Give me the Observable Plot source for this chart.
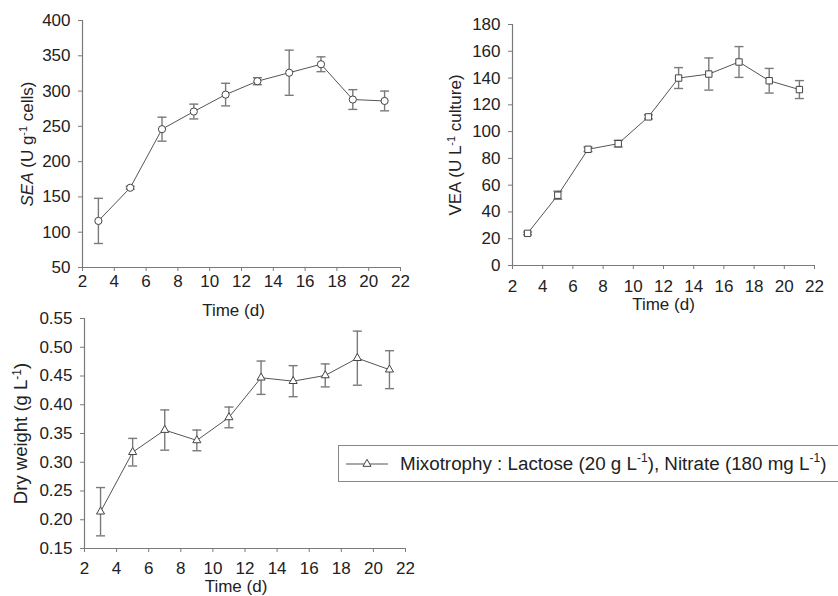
<!DOCTYPE html>
<html>
<head>
<meta charset="utf-8">
<script src="https://cdn.jsdelivr.net/npm/d3@7"></script>
<script src="https://cdn.jsdelivr.net/npm/@observablehq/plot@0.6"></script>
<style>
  html, body { margin: 0; padding: 0; background: #fff; }
  #root { position: relative; width: 838px; height: 596px; overflow: hidden; background: #fff; font-family: "Liberation Sans", Arial, sans-serif; }
  #root > svg { position: absolute; }
  #legend { position: absolute; box-sizing: border-box; border: 1.5px solid #888; background: #fff;
            display: flex; align-items: center; font-size: 18.8px; color: #222; white-space: nowrap; }
  #legend sup { font-size: 12px; position: relative; top: -1px; }
</style>
</head>
<body>
<div id="root"></div>
<script>
// ---------- data ----------
const days = [3, 5, 7, 9, 11, 13, 15, 17, 19, 21];

const seaValues = [116, 163, 246, 271, 295, 314, 326, 338, 288, 286];
const seaSd     = [32, 2, 17, 10.5, 16, 5, 32, 10.5, 14, 14];

const veaValues = [24, 52.5, 86.8, 91, 111, 140, 143, 152, 138, 131.4];
const veaSd     = [1, 3, 1.7, 2.5, 1.5, 7.8, 12, 11.5, 9.2, 6.7];

const dryValues = [0.214, 0.3175, 0.356, 0.338, 0.378, 0.447, 0.441, 0.451, 0.481, 0.461];
const drySd     = [0.042, 0.024, 0.035, 0.018, 0.018, 0.029, 0.027, 0.020, 0.047, 0.033];

const xTicks   = [2, 4, 6, 8, 10, 12, 14, 16, 18, 20, 22];
const seaTicks = [50, 100, 150, 200, 250, 300, 350, 400];
const veaTicks = [0, 20, 40, 60, 80, 100, 120, 140, 160, 180];
const dryTicks = [0.15, 0.20, 0.25, 0.30, 0.35, 0.40, 0.45, 0.50, 0.55];

const xLabel = "Time (d)";
const legendLabel = "Mixotrophy : Lactose (20 g L<sup>-1</sup>), Nitrate (180 mg L<sup>-1</sup>)";

// ---------- helpers ----------
const capSymbol = {
  draw(context, size) {
    const w = Math.sqrt(size / Math.PI);
    context.moveTo(-w, 0);
    context.lineTo(w, 0);
  }
};

function sup(s, fs) {
  return `<tspan dy="-6" font-size="${fs}">${s}</tspan>`;
}

function makeChart(cfg) {
  const rows = days.map((t, i) => ({
    t, v: cfg.values[i], lo: cfg.values[i] - cfg.sd[i], hi: cfg.values[i] + cfg.sd[i]
  }));
  const chart = Plot.plot({
    width: cfg.width, height: cfg.height,
    marginLeft: cfg.ml, marginRight: cfg.mr, marginTop: cfg.mt, marginBottom: cfg.mb,
    x: {domain: [xTicks[0], xTicks[xTicks.length - 1]]},
    y: {domain: [cfg.yTicks[0], cfg.yTicks[cfg.yTicks.length - 1]]},
    style: {fontFamily: "'Liberation Sans', Arial, sans-serif", fontSize: "17px", color: "#222", background: "none", overflow: "visible"},
    marks: [
      Plot.ruleY([cfg.yTicks[0]], {stroke: "#7a7a7a", strokeWidth: 1.2}),
      Plot.ruleX([xTicks[0]], {stroke: "#7a7a7a", strokeWidth: 1.2}),
      Plot.axisX(xTicks, {tickSize: 4, tickPadding: cfg.xPad, stroke: "#7a7a7a", fill: "#222", fontSize: cfg.tickFs, label: null}),
      Plot.axisY(cfg.yTicks, {tickSize: 4, tickPadding: 8, stroke: "#7a7a7a", fill: "#222", fontSize: cfg.tickFs, label: null, tickFormat: cfg.tickFormat}),
      Plot.ruleX(rows, {x: "t", y1: "lo", y2: "hi", stroke: "#7a7a7a", strokeWidth: 1.4}),
      Plot.dot(rows, {x: "t", y: "lo", symbol: capSymbol, r: 4.5, stroke: "#7a7a7a", strokeWidth: 1.4, fill: "none"}),
      Plot.dot(rows, {x: "t", y: "hi", symbol: capSymbol, r: 4.5, stroke: "#7a7a7a", strokeWidth: 1.4, fill: "none"}),
      Plot.line(rows, {x: "t", y: "v", stroke: "#555", strokeWidth: 1}),
      Plot.dot(rows, {x: "t", y: "v", symbol: cfg.symbol, r: cfg.r, fill: "white", stroke: "#444", strokeWidth: 1}),
      Plot.text([cfg.yLabel], {frameAnchor: "left", textAnchor: "middle", lineAnchor: "middle", dx: cfg.yLabelDx, rotate: -90, fontSize: cfg.yLabelFs, fill: "#222"}),
      Plot.text([xLabel], {frameAnchor: "bottom", textAnchor: "middle", lineAnchor: "middle", dx: cfg.xLabelDx, dy: cfg.xLabelDy, fontSize: cfg.xLabelFs, fill: "#222"})
    ]
  });
  // rich text (italics / superscripts) for the y-axis title
  chart.querySelectorAll("text").forEach(el => {
    if (el.textContent === cfg.yLabel) el.innerHTML = cfg.yLabelHtml;
  });
  chart.style.left = cfg.left + "px";
  chart.style.top = cfg.top + "px";
  return chart;
}

const root = document.getElementById("root");

root.appendChild(makeChart({
  values: seaValues, sd: seaSd, yTicks: seaTicks, symbol: "circle", r: 3.6,
  width: 420, height: 330, ml: 82, mr: 20, mt: 20, mb: 63, left: 0, top: 0,
  tickFs: 17, yLabelFs: 17, xLabelFs: 17,
  xPad: 3, yLabelDx: -55, xLabelDx: -8, xLabelDy: 43,
  yLabel: "SEA (U g-1 cells)",
  yLabelHtml: `<tspan font-style="italic">SEA</tspan> (U g${sup("-1", 11)}<tspan dy="6"> cells)</tspan>`
}));

root.appendChild(makeChart({
  values: veaValues, sd: veaSd, yTicks: veaTicks, symbol: "square", r: 3.6,
  width: 418, height: 320, ml: 92, mr: 24, mt: 24, mb: 55, left: 420, top: 0,
  tickFs: 17, yLabelFs: 17, xLabelFs: 17,
  xPad: 10, yLabelDx: -57, xLabelDx: 0, xLabelDy: 39,
  yLabel: "VEA (U L-1 culture)",
  yLabelHtml: `VEA (U L${sup("-1", 11)}<tspan dy="6"> culture)</tspan>`
}));

root.appendChild(makeChart({
  values: dryValues, sd: drySd, yTicks: dryTicks, symbol: "triangle", r: 3,
  width: 420, height: 296, ml: 84, mr: 15, mt: 18, mb: 48, left: 0, top: 300,
  tickFs: 17, yLabelFs: 18.5, xLabelFs: 17,
  xPad: 9, yLabelDx: -63, xLabelDx: -9, xLabelDy: 38, tickFormat: d3.format(".2f"),
  yLabel: "Dry weight (g L-1)",
  yLabelHtml: `Dry weight (g L${sup("-1", 12)}<tspan dy="6">)</tspan>`
}));

// legend (its right border runs off the picture, as in the reference)
const legend = document.createElement("div");
legend.id = "legend";
legend.style.left = "338px";
legend.style.top = "445px";
legend.style.width = "506px";
legend.style.height = "37px";
legend.innerHTML =
  `<svg width="58" height="20" style="flex:none;margin-left:2px">
     <line x1="5" x2="47" y1="10" y2="10" stroke="#555" stroke-width="1"></line>
     <path d="${d3.symbol(d3.symbolTriangle, Math.PI * 9)()}" transform="translate(26,10)" fill="white" stroke="#444" stroke-width="1"></path>
   </svg><span style="margin-left:1px">${legendLabel}</span>`;
root.appendChild(legend);
</script>
</body>
</html>
